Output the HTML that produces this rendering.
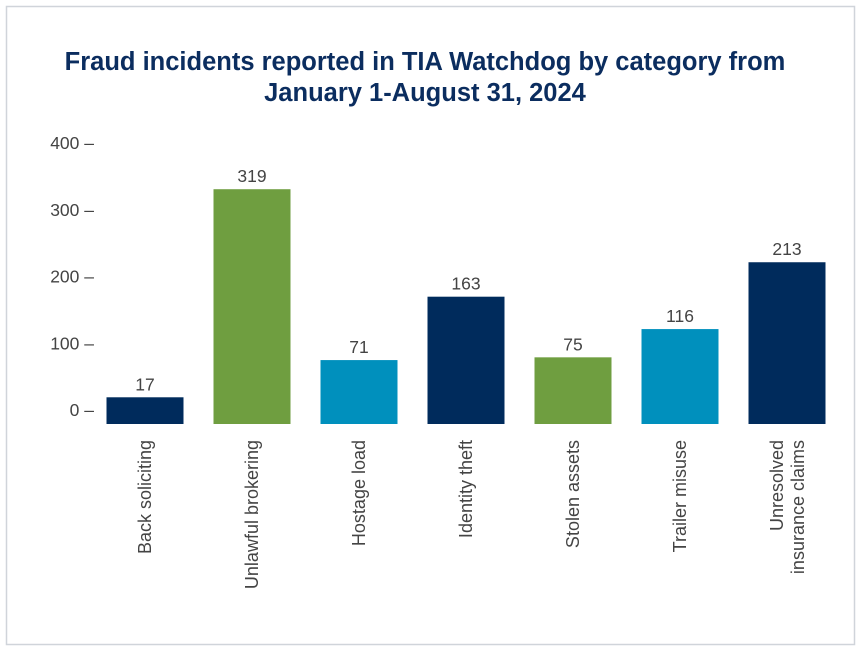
<!DOCTYPE html>
<html><head><meta charset="utf-8"><style>
body{margin:0;background:#fff;}
svg{display:block;font-family:"Liberation Sans",sans-serif;}
</style></head><body>
<svg width="861" height="661" viewBox="0 0 861 661" id="chart">
<rect x="6.5" y="6.5" width="848" height="638" fill="#fff" stroke="#d0d4da" stroke-width="1.5"/>
<text x="425" y="70" text-anchor="middle" font-size="25.5" font-weight="bold" fill="#0b2d5f">Fraud incidents reported in TIA Watchdog by category from</text>
<text x="425" y="101" text-anchor="middle" font-size="25.5" font-weight="bold" fill="#0b2d5f">January 1-August 31, 2024</text>
<g id="axis"></g>
<g id="bars"></g>
</svg>
<script>
const categories=["Back soliciting","Unlawful brokering","Hostage load","Identity theft","Stolen assets","Trailer misuse","Unresolved|insurance claims"];
const values=[17,319,71,163,75,116,213];
const colors=["#002b5c","#6f9e40","#0090bd","#002b5c","#6f9e40","#0090bd","#002b5c"];
const ticks=[0,100,200,300,400];
const NS="http://www.w3.org/2000/svg";
const y0=410,pxPer=(410-143)/400,base=424;
const yScale=v=>y0-v*pxPer;
const barTop=v=>base-(15+v*0.689);
const xCenter=i=>145+i*107;
const bw=77;
function mk(t,a,p){const e=document.createElementNS(NS,t);for(const k in a)e.setAttribute(k,a[k]);p.appendChild(e);return e;}
const ax=document.getElementById('axis'),bg=document.getElementById('bars');
ticks.forEach(t=>{
 const e=mk('text',{x:94,y:yScale(t)+6,'text-anchor':'end','font-size':17.5,fill:'#444'},ax);
 
 
 e.textContent=t+' \u2013';
});
values.forEach((v,i)=>{
 const top=barTop(v);
 const r=mk('rect',{x:xCenter(i)-bw/2,y:top,width:bw,height:base-top,fill:colors[i]},bg);
 
 
 const t=mk('text',{x:xCenter(i),y:top-7,'text-anchor':'middle','font-size':17.5,fill:'#444'},bg);
 
 
 t.textContent=v;
 const parts=categories[i].split('|');
 const g=mk('text',{transform:`translate(${xCenter(i)},440) rotate(-90)`,'text-anchor':'end','font-size':18,fill:'#444'},bg);
 
 
 parts.forEach((p,j)=>{
  const ts=mk('tspan',{x:0,y:(parts.length===1?6:-4+j*21)},g);
  ts.textContent=p;
 });
});
</script>
</body></html>
